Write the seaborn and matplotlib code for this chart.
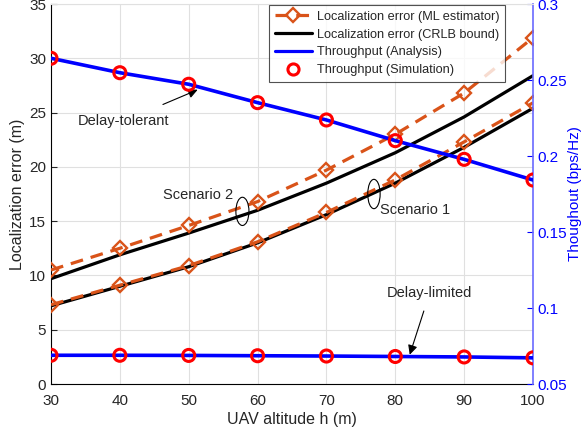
import numpy as np
import pandas as pd
import matplotlib
matplotlib.use('Agg')
import matplotlib.pyplot as plt
import seaborn as sns
from matplotlib.patches import Ellipse
from matplotlib.lines import Line2D

## Data
altitude = [30, 40, 50, 60, 70, 80, 90, 100]

# localization error (m), left axis
ml_scen2 = [10.5, 12.5, 14.6, 16.8, 19.7, 23.0, 26.8, 31.9]
crlb_scen2 = [9.7, 11.9, 13.9, 16.0, 18.5, 21.3, 24.6, 28.4]
ml_scen1 = [7.3, 9.1, 10.9, 13.1, 15.8, 18.8, 22.3, 25.9]
crlb_scen1 = [7.2, 9.0, 10.8, 13.0, 15.6, 18.5, 21.8, 25.4]

# throughput (bps/Hz), right axis
thr_tolerant = [0.2643, 0.2548, 0.2472, 0.2351, 0.2237, 0.2101, 0.1978, 0.1842]
thr_limited = [0.0689, 0.0689, 0.0688, 0.0686, 0.0684, 0.0681, 0.0678, 0.0672]

orange = '#D95319'
txt = '#262626'

sns.set_style('white')
plt.rcParams['font.family'] = ['Liberation Sans', 'DejaVu Sans']
plt.rcParams['font.size'] = 10

fig = plt.figure(figsize=(5.85, 4.36), dpi=100)
ax = fig.add_axes([51/585, 1-384/436, 482/585, 380/436])
ax2 = ax.twinx()

df = pd.DataFrame({'h': altitude, 'ml2': ml_scen2, 'cr2': crlb_scen2,
                   'ml1': ml_scen1, 'cr1': crlb_scen1,
                   'tt': thr_tolerant, 'tl': thr_limited})

# localization error curves
for col in ['cr2', 'cr1']:
    sns.lineplot(data=df, x='h', y=col, ax=ax, color='black', lw=2.3, zorder=3)
for col in ['ml2', 'ml1']:
    sns.lineplot(data=df, x='h', y=col, ax=ax, color=orange, lw=2.3, ls=(0, (4, 2.5)),
                 marker='D', markersize=7.5, markerfacecolor='none', markeredgecolor=orange,
                 markeredgewidth=1.7, zorder=4)

# throughput curves
for col in ['tt', 'tl']:
    sns.lineplot(data=df, x='h', y=col, ax=ax2, color='blue', lw=2.6, zorder=3)
    sns.scatterplot(data=df, x='h', y=col, ax=ax2, marker='o', s=75, facecolor='none',
                    edgecolor='red', linewidth=2.2, zorder=4)

ax.set_xlim(30, 100)
ax.set_ylim(0, 35)
ax.set_xticks(range(30, 101, 10))
ax.set_yticks(range(0, 36, 5))
ax2.set_ylim(0.05, 0.3)
ax2.set_yticks([0.05, 0.1, 0.15, 0.2, 0.25, 0.3])
ax2.set_yticklabels(['0.05', '0.1', '0.15', '0.2', '0.25', '0.3'])

ax.grid(True, color='#e0e0e0', lw=0.8)
ax.set_axisbelow(True)
ax.set_xlabel('UAV altitude h (m)', color=txt, fontsize=11.5, labelpad=3)
ax.set_ylabel('Localization error (m)', color=txt, fontsize=11.5, labelpad=3)
ax2.set_ylabel('Thoughout (bps/Hz)', color='blue', fontsize=11, labelpad=1)
ax2.set_xlabel('')

ax.tick_params(direction='in', length=4, colors=txt, labelsize=11, right=False, top=False)
ax.tick_params(axis='x', pad=7)
ax2.tick_params(direction='in', length=4, colors='blue', labelsize=11, pad=3)
for s in ['top', 'right']:
    ax.spines[s].set_visible(False)
ax.spines['left'].set_color('black')
ax.spines['bottom'].set_color('black')
ax2.spines['left'].set_visible(False)
ax2.spines['bottom'].set_visible(False)
ax2.spines['top'].set_color('#e0e0e0')
ax2.spines['right'].set_color('#6a6aff')
ax2.spines['right'].set_linewidth(1.2)

# annotations
ax.annotate('Delay-tolerant', xy=(51.3, 27.1), xytext=(40.5, 24.2), ha='center', va='center',
            fontsize=10.5, color=txt,
            arrowprops=dict(arrowstyle='-|>', color='black', lw=0.8, shrinkA=12, shrinkB=0,
                            mutation_scale=14))
ax.annotate('Delay-limited', xy=(82.1, 2.7), xytext=(85.0, 8.4), ha='center', va='center',
            fontsize=10.5, color=txt,
            arrowprops=dict(arrowstyle='-|>', color='black', lw=0.8, shrinkA=6, shrinkB=0,
                            mutation_scale=14))
ax.text(51.3, 17.4, 'Scenario 2', ha='center', va='center', fontsize=10.5, color=txt)
ax.text(82.8, 16.0, 'Scenario 1', ha='center', va='center', fontsize=10.5, color=txt)
ax.add_patch(Ellipse((57.8, 15.9), 1.9, 2.6, fill=False, color='black', lw=0.8, zorder=6))
ax.add_patch(Ellipse((76.9, 17.5), 1.8, 2.7, fill=False, color='black', lw=0.8, zorder=6))

# legend
handles = [
    Line2D([], [], color=orange, lw=2.3, ls=(0, (4, 2.5)), marker='D', markersize=7.5,
           markerfacecolor='none', markeredgewidth=1.7),
    Line2D([], [], color='black', lw=2.3),
    Line2D([], [], color='blue', lw=2.3),
    Line2D([], [], ls='none', marker='o', markersize=8, markerfacecolor='none',
           markeredgecolor='red', markeredgewidth=2.2),
]
labels = ['Localization error (ML estimator)', 'Localization error (CRLB bound)',
          'Throughput (Analysis)', 'Throughput (Simulation)']
leg = ax2.legend(handles, labels, loc='upper right', bbox_to_anchor=(0.942, 0.997),
                 borderaxespad=0, fontsize=9.2, frameon=True, fancybox=False,
                 edgecolor='#262626', handlelength=2.9, handletextpad=0.4,
                 labelspacing=0.45, borderpad=0.45)
leg.get_frame().set_linewidth(0.8)
for t in leg.get_texts():
    t.set_color(txt)

fig.savefig('out.png', dpi=100)
